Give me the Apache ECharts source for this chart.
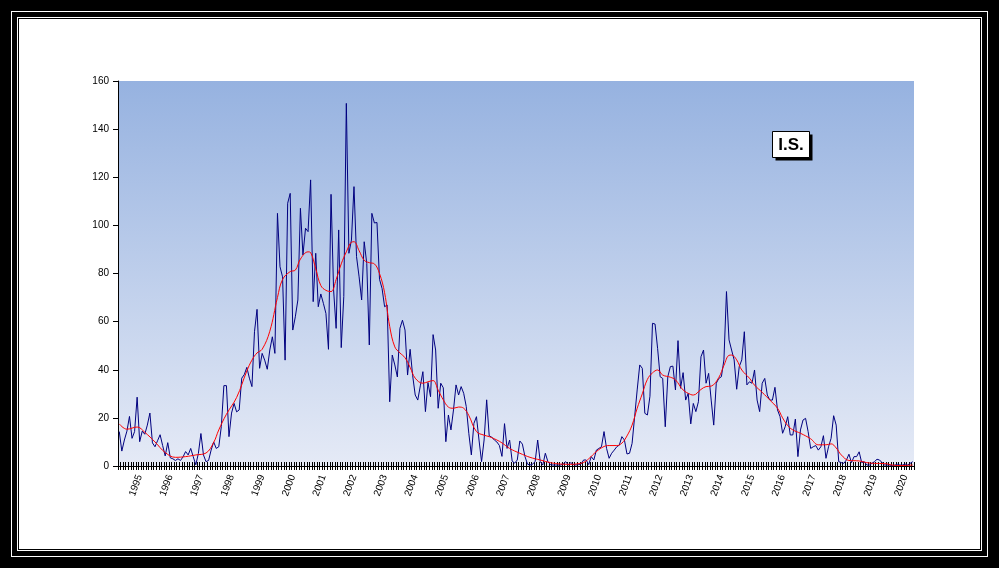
<!DOCTYPE html>
<html>
<head>
<meta charset="utf-8">
<script src="https://cdn.jsdelivr.net/npm/echarts@6/dist/echarts.min.js"></script>
<style>
  html, body { margin: 0; padding: 0; background: #000; }
  #wrap { position: relative; width: 999px; height: 568px; background: #000; overflow: hidden; }
  .ln { position: absolute; border: 1px solid #fff; box-sizing: border-box; }
  #inner { position: absolute; left: 19px; top: 19px; width: 961px; height: 530px; background: #fff; }
  #chart { position: absolute; left: 0; top: 0; width: 999px; height: 568px; }
</style>
</head>
<body>
<div id="wrap">
  <div class="ln" style="left:11px;top:11px;width:977px;height:546px;"></div>
  <div class="ln" style="left:17px;top:17px;width:965px;height:534px;"></div>
  <div id="inner"></div>
  <div id="chart"></div>
</div>
<script>
// ---- data ----
const startYear = 1994;
const startMonth = 5; // first category month
const monthlyValues = [
  14.3, 6.2, 10.8, 14.5, 20.6, 11.5, 14.3, 28.6, 10.1, 14.5, 13.2, 17,
  22, 9.6, 8.0, 10.5, 13.0, 8.5, 4.2, 9.7, 3.4, 3.0, 2.3, 3.0,
  2.3, 3.8, 6.0, 4.6, 7.3, 3.8, 0.5, 5.2, 13.5, 4.6, 1.8, 2.3,
  6.6, 10.0, 7.3, 8.0, 16.4, 33.4, 33.4, 12.2, 22.0, 26.0, 22.5, 23.3,
  36.5, 38.0, 41.0, 36.5, 33.0, 55.8, 65.1, 40.6, 46.8, 44.0, 40.2, 48.2,
  53.7, 46.8, 105.0, 82.8, 78.6, 44.0, 109.2, 113.3, 56.5, 62.0, 69.0, 107.1,
  87.7, 98.8, 97.4, 118.9, 68.3, 88.4, 66.2, 71.5, 67.6, 63.4, 48.5, 112.9,
  73.2, 57.2, 98.1, 49.2, 70.4, 150.7, 88.4, 93.9, 116.1, 87.0, 78.6, 69.0,
  93.2, 84.2, 50.3, 105.0, 101.0, 101.2, 77.6, 73.8, 66.2, 66.9, 26.7, 46.1,
  42.0, 37.0, 57.2, 60.6, 56.5, 37.8, 48.5, 37.5, 29.5, 27.4, 33.3, 39.2,
  22.6, 34.7, 28.8, 54.6, 48.2, 24.0, 34.4, 32.5, 10.1, 21.2, 15.0, 23.3,
  33.7, 29.5, 33.0, 30.2, 24.7, 13.6, 4.6, 17.7, 20.5, 10.8, 1.8, 10.8,
  27.5, 12.5, 12.0, 10.8, 10.0, 8.5, 4.0, 17.6, 7.3, 10.8, 2.0, 1.2,
  2.5, 10.4, 9.1, 4.0, 0.8, 0.4, 0.8, 1.8, 10.8, 1.8, 0.4, 5.3,
  1.8, 0.6, 0.4, 0.4, 0.4, 0.4, 0.8, 1.8, 0.4, 1.4, 0.6, 0.4,
  0.6, 0.8, 2.5, 2.5, 0.6, 3.9, 2.5, 6.6, 7.3, 8.0, 14.3, 7.3,
  3.2, 5.3, 6.6, 8.0, 8.7, 12.2, 10.8, 5.0, 5.3, 9.4, 20.5, 31.6,
  42.0, 40.6, 21.9, 21.2, 29.0, 59.3, 59.0, 48.9, 37.1, 36.4, 16.3, 37.1,
  41.3, 41.5, 31.6, 52.1, 32.3, 38.8, 27.4, 30.2, 17.5, 26.0, 22.6, 26.7,
  45.4, 48.2, 34.4, 38.5, 27.4, 17.0, 34.4, 36.4, 37.1, 44.1, 72.5, 52.4,
  48.2, 44.1, 31.9, 41.3, 44.1, 55.8, 33.7, 35.0, 34.4, 39.9, 27.4, 22.6,
  34.4, 36.4, 29.5, 27.4, 27.4, 32.7, 23.3, 20.5, 13.6, 16.3, 20.5, 12.9,
  12.9, 19.5, 3.9, 15.0, 19.1, 19.8, 14.3, 7.3, 8.0, 8.5, 6.6, 8.0,
  12.6, 3.2, 8.0, 11.5, 20.9, 17.0, 1.8, 1.4, 1.1, 2.5, 4.9, 1.4,
  3.9, 3.9, 5.9, 1.4, 1.8, 0.4, 0.4, 1.1, 1.8, 2.8, 2.5, 1.4,
  0.4, 0.4, 0.4, 0.1, 0.4, 0.7, 0.4, 0.4, 0.8, 0.4, 1.1, 1.8
];
// moving-average line: read points (category index, value)
const avgIndex = [0, 3, 7, 10, 14, 18, 22, 26, 30, 34, 37, 39, 42, 46, 50, 52, 54, 56, 59, 62,
  64, 67, 69, 71, 74, 75, 77, 79, 81, 83, 85, 87, 89, 91, 92, 94, 96, 98, 100, 102,
  104, 106, 108, 110, 112, 114, 116, 119, 121, 123, 125, 127, 129, 131, 133, 135, 137, 140, 143, 145,
  148, 150, 153, 157, 161, 165, 169, 173, 177, 179, 182, 184, 187, 190, 192, 195, 197, 199, 201, 203,
  205, 207, 209, 211, 213, 216, 218, 221, 224, 225, 228, 230, 232, 235, 237, 239, 240, 242, 244, 247,
  249, 252, 255, 258, 260, 262, 264, 267, 271, 274, 277, 279, 281, 283, 286, 290, 293, 296, 300, 303,
  306, 311];
const avgValue = [17.5, 15.3, 16.2, 14.0, 10.0, 5.6, 3.6, 3.9, 4.6, 5.4, 9.8, 15, 21.5, 28.5, 39.5, 44, 47, 48.5, 56, 70,
  77.5, 80.8, 81.4, 86, 89, 88.7, 82, 75, 73, 72.5, 77.5, 84, 89, 93, 93.2, 89.5, 85.5, 84.5, 84, 80,
  72, 58, 49.5, 47, 45, 41, 36.5, 34.4, 35, 35.5, 31.5, 27.5, 24.5, 24, 24.5, 24, 21, 14.3, 12.8, 12.2,
  10.8, 9.6, 7.3, 5.3, 3.6, 2.5, 1.4, 0.8, 0.7, 0.8, 1.5, 3, 6, 8.1, 8.5, 8.5, 9.5, 12.5, 17, 24,
  30, 36, 38.7, 39.9, 37.8, 36.9, 35.8, 31.6, 29.7, 29.5, 31.8, 33, 33.2, 36.8, 41.8, 46, 46.1, 44.1, 39.9, 36.5,
  33.6, 30.6, 27.4, 24, 20, 16.8, 15, 13.6, 11.3, 8.8, 8.8, 9.2, 7.5, 4.6, 2.3, 2.1, 1.4, 1.1, 1.0, 0.4,
  0.2, 0.4];
const yMin = 0, yMax = 160, yStep = 20;
const boxLabel = 'I.S.';

// ---- build ----
const categories = monthlyValues.map((_, k) => {
  const m0 = startMonth - 1 + k;
  const y = startYear + Math.floor(m0 / 12);
  const m = (m0 % 12) + 1;
  return y + '-' + (m < 10 ? '0' + m : '' + m);
});
const avgData = avgIndex.map((ix, k) => [ix, avgValue[k]]);

const chart = echarts.init(document.getElementById('chart'), null, { renderer: 'canvas' });
const FONT = 'Liberation Sans, Arial, sans-serif';
chart.setOption({
  animation: false,
  backgroundColor: 'transparent',
  grid: {
    left: 118, right: 85, top: 81, bottom: 102,
    show: true, borderWidth: 0,
    backgroundColor: {
      type: 'linear', x: 0, y: 0, x2: 0, y2: 1,
      colorStops: [{ offset: 0, color: '#96b2e0' }, { offset: 1, color: '#e5eaf6' }]
    }
  },
  xAxis: [{
    type: 'category', data: categories, boundaryGap: true,
    axisLine: { show: true, lineStyle: { color: '#000', width: 1 } },
    axisTick: { show: true, interval: 0, length: 4, lineStyle: { color: '#000', width: 1 } },
    axisLabel: {
      interval: (i, v) => v.endsWith('-01'),
      formatter: v => v.slice(0, 4),
      rotate: 70, margin: 9, fontSize: 10, color: '#000', fontFamily: FONT
    },
    splitLine: { show: false }
  }, {
    type: 'category', data: categories, boundaryGap: true, position: 'bottom',
    axisLine: { show: false },
    axisTick: { show: true, inside: true, interval: 0, length: 4, lineStyle: { color: '#000', width: 1 } },
    axisLabel: { show: false },
    splitLine: { show: false }
  }],
  yAxis: {
    type: 'value', min: yMin, max: yMax, interval: yStep,
    axisLine: { show: true, lineStyle: { color: '#000', width: 1 } },
    axisTick: { show: true, length: 5, lineStyle: { color: '#000', width: 1 } },
    axisLabel: { fontSize: 10, color: '#000', margin: 9, fontFamily: FONT },
    splitLine: { show: false }
  },
  series: [{
    type: 'line', xAxisIndex: 0, data: monthlyValues, symbol: 'none',
    lineStyle: { color: '#00007f', width: 1 }, z: 2
  }, {
    type: 'line', xAxisIndex: 0, data: avgData, symbol: 'none', smooth: 0.4,
    lineStyle: { color: '#ff0000', width: 1 }, z: 3
  }],
  graphic: [{
    type: 'group', left: 772, top: 131, z: 100,
    children: [
      { type: 'rect', shape: { x: 3, y: 3, width: 37, height: 26 }, style: { fill: '#000' } },
      { type: 'rect', shape: { x: 0, y: 0, width: 37, height: 26 }, style: { fill: '#fff', stroke: '#000', lineWidth: 1 } },
      { type: 'text', style: { x: 18.5, y: 13.5, text: boxLabel, fill: '#000', font: 'bold 17px ' + FONT, textAlign: 'center', textVerticalAlign: 'middle' } }
    ]
  }]
});
</script>
</body>
</html>
